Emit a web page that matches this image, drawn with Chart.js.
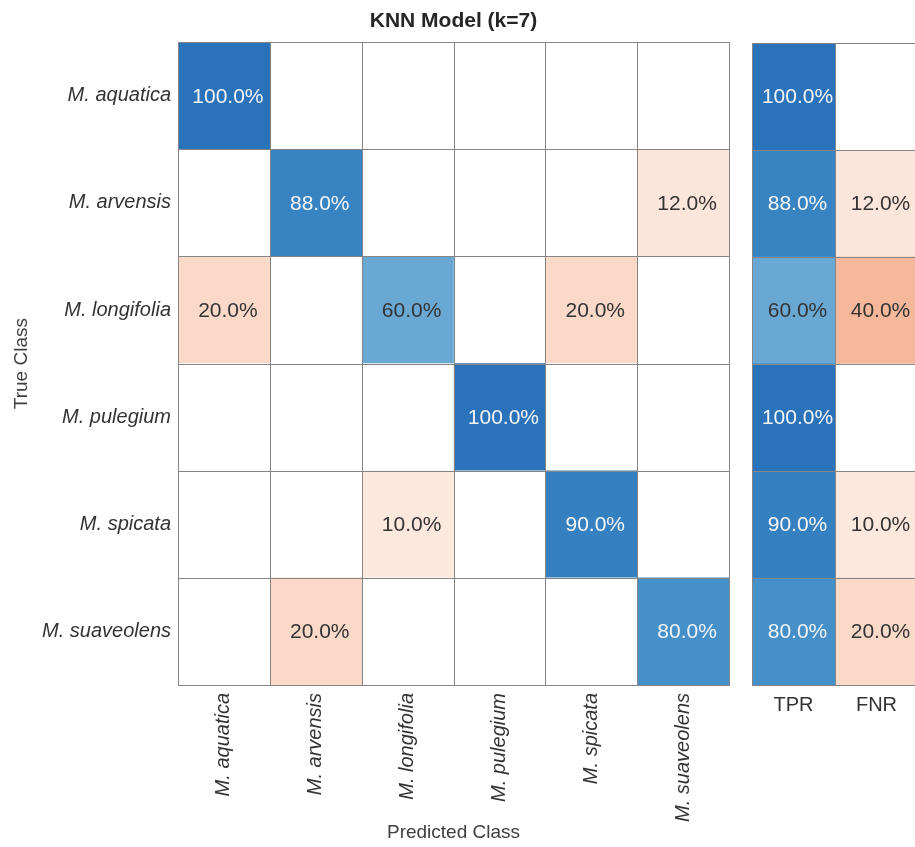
<!DOCTYPE html>
<html>
<head>
<meta charset="utf-8">
<script src="https://cdn.jsdelivr.net/npm/chart.js@4.4.1/dist/chart.umd.min.js"></script>
<style>
  html, body { margin: 0; padding: 0; background: #ffffff; overflow: hidden; }
  #wrap { position: relative; width: 915px; height: 847px; overflow: hidden; }
  .box { position: absolute; top: 0; height: 847px; }
  #mainBox { left: 0; width: 907px; }
  #rateBox { left: 752px; width: 166px; }
</style>
</head>
<body>
<div id="wrap">
  <div class="box" id="mainBox"><canvas id="matrix"></canvas></div>
  <div class="box" id="rateBox"><canvas id="rates"></canvas></div>
</div>
<script>
// Species (true class rows, predicted class columns)
const trueClasses = ['M. aquatica', 'M. arvensis', 'M. longifolia', 'M. pulegium', 'M. spicata', 'M. suaveolens'];
const predictedClasses = ['M. aquatica', 'M. arvensis', 'M. longifolia', 'M. pulegium', 'M. spicata', 'M. suaveolens'];

// Row-normalised percentages, one array per true class
const aquaticaRow   = [100, 0, 0, 0, 0, 0];
const arvensisRow   = [0, 88, 0, 0, 0, 12];
const longifoliaRow = [20, 0, 60, 0, 20, 0];
const pulegiumRow   = [0, 0, 0, 100, 0, 0];
const spicataRow    = [0, 0, 10, 0, 90, 0];
const suaveolensRow = [0, 20, 0, 0, 0, 80];

// Per-class true positive / false negative rates
const rateLabels = ['TPR', 'FNR'];
const tprValues = [100, 88, 60, 100, 90, 80];
const fnrValues = [0, 12, 40, 0, 10, 20];

const matrixRows = [aquaticaRow, arvensisRow, longifoliaRow, pulegiumRow, spicataRow, suaveolensRow];

// Colour scales: blue for correct predictions, orange for errors
const BLUE_STOPS = [[0, [255, 255, 255]], [60, [106, 168, 212]], [80, [70, 144, 202]], [90, [53, 128, 192]], [100, [42, 114, 185]]];
const ORANGE_STOPS = [[0, [255, 255, 255]], [10, [253, 232, 222]], [20, [250, 217, 200]], [40, [245, 184, 154]], [100, [214, 96, 60]]];

function scaleColor(stops, v) {
  if (v <= 0) return '#ffffff';
  for (let i = 1; i < stops.length; i++) {
    if (v <= stops[i][0]) {
      const [a, ca] = stops[i - 1], [b, cb] = stops[i];
      const t = (v - a) / (b - a);
      const c = ca.map((x, k) => Math.round(x + (cb[k] - x) * t));
      return `rgb(${c[0]},${c[1]},${c[2]})`;
    }
  }
  const c = stops[stops.length - 1][1];
  return `rgb(${c[0]},${c[1]},${c[2]})`;
}
function textColor(isBlue, v) {
  return isBlue && v >= 70 ? '#f4f4f4' : '#333333';
}

const FONT = '"Liberation Sans", Arial, Helvetica, sans-serif';
const LINE = '#858585';

// Draws the cell outlines and the percentage text on top of each bar element
function cellPlugin(valueOf, isBlueOf) {
  return {
    id: 'cells',
    afterDatasetsDraw(chart) {
      const ctx = chart.ctx;
      ctx.save();
      chart.data.datasets.forEach((ds, col) => {
        const meta = chart.getDatasetMeta(col);
        meta.data.forEach((el, row) => {
          const p = el.getProps(['x', 'y', 'base', 'height'], true);
          const left = Math.min(p.x, p.base), right = Math.max(p.x, p.base);
          const top = p.y - p.height / 2, bottom = p.y + p.height / 2;
          ctx.strokeStyle = LINE;
          ctx.lineWidth = 1;
          ctx.strokeRect(Math.round(left) + 0.5, Math.round(top) + 0.5,
                         Math.round(right) - Math.round(left), Math.round(bottom) - Math.round(top));
          const v = valueOf(row, col);
          if (v > 0) {
            ctx.fillStyle = textColor(isBlueOf(row, col), v);
            ctx.font = '21px ' + FONT;
            ctx.textAlign = 'center';
            ctx.textBaseline = 'middle';
            ctx.fillText(v.toFixed(1) + '%', (left + right) / 2 + 4, p.y + 1);
          }
        });
      });
      ctx.restore();
    }
  };
}

Chart.defaults.font.family = FONT;
Chart.defaults.color = '#404040';

// Main confusion matrix: one stacked horizontal bar per true class, one dataset per predicted class
const matrixDatasets = predictedClasses.map((name, col) => ({
  label: name,
  data: trueClasses.map(() => 1),
  backgroundColor: trueClasses.map((_, row) =>
    row === col ? scaleColor(BLUE_STOPS, matrixRows[row][col]) : scaleColor(ORANGE_STOPS, matrixRows[row][col])),
  borderWidth: 0,
  barPercentage: 1,
  categoryPercentage: 1
}));

new Chart(document.getElementById('matrix'), {
  type: 'bar',
  data: { labels: trueClasses, datasets: matrixDatasets },
  options: {
    indexAxis: 'y',
    responsive: true,
    maintainAspectRatio: false,
    animation: false,
    layout: { padding: 0 },
    plugins: {
      legend: { display: false },
      tooltip: { enabled: false },
      title: {
        display: true,
        text: 'KNN Model (k=7)',
        color: '#262626',
        font: { size: 21, weight: 'bold' },
        padding: { top: 9, bottom: 8 }
      }
    },
    scales: {
      x: { type: 'linear', stacked: true, min: 0, max: predictedClasses.length, display: false },
      y: {
        type: 'category',
        stacked: true,
        grid: { display: false, drawTicks: false },
        border: { display: false },
        ticks: { color: '#333333', padding: 7, font: { size: 20, style: 'italic' } },
        title: { display: true, text: 'True Class', color: '#404040', font: { size: 19 }, padding: { top: 10, bottom: 0 } },
        afterFit(scale) { scale.width = 178; }
      },
      // empty right-hand gutter that keeps the matrix and its title centred together
      gutter: {
        type: 'category',
        position: 'right',
        grid: { display: false, drawTicks: false },
        border: { display: false },
        ticks: { display: false },
        afterFit(scale) { scale.width = 178; }
      },
      pred: {
        type: 'category',
        labels: predictedClasses,
        position: 'bottom',
        offset: true,
        grid: { display: false, drawTicks: false },
        border: { display: false },
        ticks: { color: '#333333', padding: 8, minRotation: 90, maxRotation: 90, autoSkip: false, font: { size: 20, style: 'italic' } },
        title: { display: true, text: 'Predicted Class', color: '#404040', font: { size: 19 }, padding: { top: 0, bottom: 3 } },
        afterFit(scale) { scale.height = 162; }
      }
    }
  },
  plugins: [cellPlugin((r, c) => matrixRows[r][c], (r, c) => r === c)]
});

// Row summary: TPR and FNR per true class
const rateSeries = [tprValues, fnrValues];
const rateDatasets = rateLabels.map((name, col) => ({
  label: name,
  data: trueClasses.map(() => 1),
  backgroundColor: rateSeries[col].map(v => col === 0 ? scaleColor(BLUE_STOPS, v) : scaleColor(ORANGE_STOPS, v)),
  borderWidth: 0,
  barPercentage: 1,
  categoryPercentage: 1
}));

new Chart(document.getElementById('rates'), {
  type: 'bar',
  data: { labels: trueClasses, datasets: rateDatasets },
  options: {
    indexAxis: 'y',
    responsive: true,
    maintainAspectRatio: false,
    animation: false,
    layout: { padding: { left: 0, right: 0, top: 43, bottom: 0 } },
    plugins: { legend: { display: false }, tooltip: { enabled: false }, title: { display: false } },
    scales: {
      x: { type: 'linear', stacked: true, min: 0, max: rateLabels.length, display: false },
      y: { type: 'category', stacked: true, display: false },
      rate: {
        type: 'category',
        labels: rateLabels,
        position: 'bottom',
        offset: true,
        grid: { display: false, drawTicks: false },
        border: { display: false },
        ticks: { color: '#333333', padding: 8, maxRotation: 0, font: { size: 20 } },
        afterFit(scale) { scale.height = 162; }
      }
    }
  },
  plugins: [cellPlugin((r, c) => rateSeries[c][r], (r, c) => c === 0)]
});
</script>
</body>
</html>
